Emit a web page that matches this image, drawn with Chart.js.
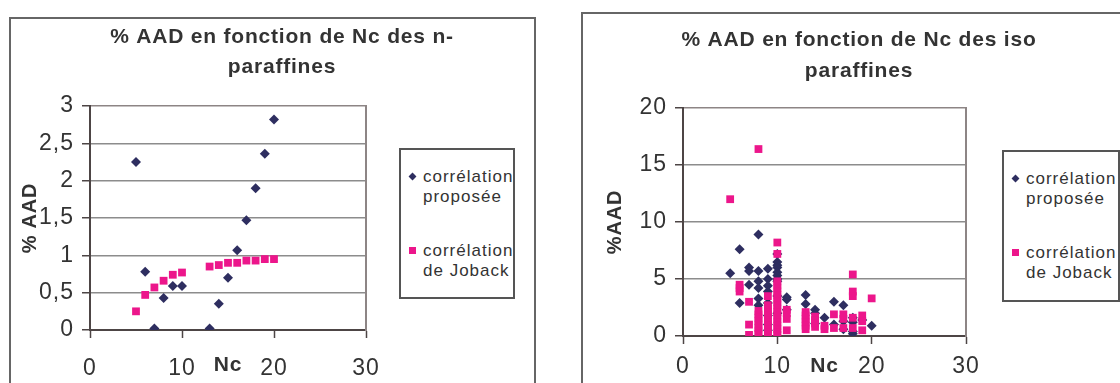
<!DOCTYPE html>
<html>
<head>
<meta charset="utf-8">
<script src="https://cdn.jsdelivr.net/npm/chart.js@4.4.1/dist/chart.umd.min.js"></script>
<style>
body { margin: 0; width: 1120px; height: 383px; overflow: hidden; background: #fff; font-family: 'Liberation Sans', Arial, sans-serif; }
.frame { position: absolute; border: 2px solid #666; box-sizing: border-box; height: 420px; }
.frame canvas { position: absolute; left: 0; top: 0; }
.legend { position: absolute; border: 2px solid #555; box-sizing: border-box; background: #fff; color: #333; font-size: 17px; letter-spacing: 1px; line-height: 20px; }
.legend .item { position: absolute; left: 22px; width: 92px; }
.legend .mark { position: absolute; left: -14px; top: 6px; width: 7px; height: 7px; }
.legend .diamond { transform: rotate(45deg) scale(0.8); }
</style>
</head>
<body>
<div class="frame" style="left:9px; top:17px; width:527px;"><canvas id="chartN" width="523" height="380"></canvas></div>
<div class="legend" id="legendN" style="left:399px; top:148px; width:116px; height:151px;"></div>
<div class="frame" style="left:581px; top:12px; width:544px;"><canvas id="chartIso" width="540" height="380"></canvas></div>
<div class="legend" id="legendIso" style="left:1002px; top:150px; width:118px; height:152px;"></div>
<script>
// n-paraffines
const nNc = [5, 6, 7, 8, 9, 10, 13, 14, 15, 16, 17, 18, 19, 20];
const nPropose = [2.25, 0.78, 0.02, 0.43, 0.59, 0.59, 0.02, 0.35, 0.70, 1.07, 1.47, 1.90, 2.36, 2.82];
const nJoback = [0.25, 0.47, 0.57, 0.66, 0.74, 0.77, 0.85, 0.87, 0.90, 0.90, 0.93, 0.93, 0.95, 0.95];

// iso paraffines
const isoNcPropose = [5, 6, 6, 7, 7, 7, 8, 8, 8, 8, 8, 8, 9, 9, 9, 9, 9, 9, 9, 9,
	10, 10, 10, 10, 10, 10, 10, 10, 10, 10, 11, 11, 11, 13, 13, 14, 14, 14, 15,
	16, 16, 17, 17, 17, 18, 18, 18, 18, 19, 20];
const isoPropose = [5.5, 7.6, 2.9, 6.0, 5.7, 4.5, 8.9, 5.7, 4.8, 4.2, 3.3, 2.7, 5.9, 5.0, 4.4, 3.9, 2.9, 1.8, 1.0, 0.5,
	7.2, 6.5, 6.2, 6.0, 5.6, 5.3, 5.0, 4.8, 3.5, 2.0, 3.4, 3.2, 2.3, 3.6, 2.8, 2.3, 2.0, 1.1, 1.6,
	3.0, 1.0, 2.7, 1.3, 0.6, 1.6, 1.2, 0.4, 0.2, 1.4, 0.9];

const isoNcJoback = [5, 6, 6, 6, 7, 7, 7, 8, 8, 8, 8, 8, 8, 8, 8, 8,
	9, 9, 9, 9, 9, 9, 9, 9, 9, 9, 9,
	10, 10, 10, 10, 10, 10, 10, 10, 10, 10, 10, 10, 10, 10, 10, 10, 10, 10, 10,
	11, 11, 11, 11, 13, 13, 13, 13, 13, 13, 14, 14, 14, 14, 15, 15, 16, 16,
	17, 17, 17, 18, 18, 18, 18, 18, 19, 19, 19, 20];
const isoJoback = [12.0, 4.5, 4.2, 3.9, 3.0, 1.0, 0.1, 16.4, 2.2, 1.9, 1.6, 1.3, 1.0, 0.7, 0.4, 0.2,
	3.5, 2.7, 2.4, 2.1, 1.8, 1.5, 1.2, 0.9, 0.6, 0.3, 0.1,
	8.2, 7.2, 4.8, 4.5, 4.2, 3.9, 3.6, 3.3, 3.0, 2.7, 2.4, 2.1, 1.8, 1.5, 1.2, 0.9, 0.6, 0.3, 0.1,
	2.3, 2.0, 1.5, 0.5, 2.1, 1.8, 1.5, 1.2, 0.9, 0.6, 1.7, 1.4, 1.1, 0.8, 0.9, 0.6, 1.9, 0.7,
	1.9, 1.5, 0.7, 5.4, 3.9, 3.5, 1.6, 0.7, 1.8, 1.3, 0.5, 3.3];

const labelPropose = 'corrélation proposée';
const labelJoback = 'corrélation de Joback';
const navy = '#2e2e60';
const pink = '#ec168b';

Chart.defaults.font.family = "'Liberation Sans', Arial, sans-serif";
Chart.defaults.color = '#333';

// the chart text is drawn a little wider than plain Arial: add letter spacing
function spaceText(ctx) {
	const desc = Object.getOwnPropertyDescriptor(CanvasRenderingContext2D.prototype, 'font');
	Object.defineProperty(ctx, 'font', {
		get() { return desc.get.call(this); },
		set(v) {
			desc.set.call(this, v);
			this.letterSpacing = v.indexOf('bold') >= 0 ? '0.8px' : '1px';
		},
	});
	return ctx;
}

function points(xs, ys) {
	return xs.map((x, i) => ({ x: x, y: ys[i] }));
}

function makeChart(id, o) {
	const ctx = spaceText(document.getElementById(id).getContext('2d'));
	return new Chart(ctx, {
		type: 'scatter',
		data: {
			datasets: [
				{
					label: labelPropose,
					data: points(o.x1, o.y1),
					pointStyle: 'rectRot',
					pointRadius: 5,
					pointHoverRadius: 5,
					pointBorderWidth: 0,
					backgroundColor: navy,
					borderColor: navy,
					order: 1,
				},
				{
					label: labelJoback,
					data: points(o.x2, o.y2),
					pointStyle: 'rect',
					pointRadius: 5.5,
					pointHoverRadius: 5.5,
					pointBorderWidth: 0,
					backgroundColor: pink,
					borderColor: pink,
					order: 0,
				},
			],
		},
		options: {
			responsive: false,
			animation: false,
			devicePixelRatio: 1,
			layout: { padding: { left: o.padLeft, top: 0, right: 0, bottom: 0 } },
			plugins: {
				legend: { display: false },
				tooltip: { enabled: false },
				title: {
					display: true,
					text: o.title,
					color: '#333',
					font: { size: 21, weight: 'bold', lineHeight: o.titleLine },
					padding: { top: o.titleTop, bottom: o.titleBottom },
				},
			},
			scales: {
				x: {
					type: 'linear',
					position: 'bottom',
					min: 0,
					max: 30,
					ticks: { stepSize: 10, font: { size: 23 }, padding: o.xPad, color: '#333' },
					grid: { drawOnChartArea: false, tickLength: 8, tickColor: '#4d4545', tickWidth: 1.5 },
					border: { color: '#4d4545', width: 2 },
					title: {
						display: true,
						text: 'Nc',
						color: '#333',
						font: { size: 21, weight: 'bold' },
						padding: { top: 0, bottom: o.ncBottom },
					},
					afterFit(s) { s.height = o.xHeight; },
				},
				y: {
					type: 'linear',
					position: 'left',
					min: 0,
					max: o.yMax,
					ticks: {
						stepSize: o.yStep,
						font: { size: 23 },
						padding: 8,
						color: '#333',
						callback: (v) => String(v).replace('.', ','),
					},
					grid: {
						color: (c) => (c.tick && c.tick.value === o.yMax ? '#8d8585' : '#8c8c8c'),
						lineWidth: 1.5,
						tickLength: 8,
						tickColor: '#4d4545',
						tickWidth: 1.5,
					},
					border: { color: '#4d4545', width: 2 },
					title: {
						display: true,
						text: o.yTitle,
						color: '#333',
						font: { size: 20, weight: 'bold', lineHeight: 1 },
						padding: { top: o.yTitlePad, bottom: 0 },
					},
					afterFit(s) { s.width = o.yWidth; },
				},
				side: {
					type: 'linear',
					position: 'right',
					ticks: { display: false },
					grid: { display: false },
					border: { display: true, color: '#8d8585', width: 2 },
					afterFit(s) { s.width = o.sideWidth; },
				},
			},
		},
	});
}

function buildLegend(id, chart) {
	const box = document.getElementById(id);
	const tops = [17, 91];
	chart.data.datasets.forEach((ds, i) => {
		const item = document.createElement('div');
		item.className = 'item';
		item.style.top = tops[i] + 'px';
		const mark = document.createElement('span');
		mark.className = 'mark' + (ds.pointStyle === 'rectRot' ? ' diamond' : '');
		mark.style.background = ds.backgroundColor;
		item.appendChild(mark);
		item.appendChild(document.createTextNode(ds.label));
		box.appendChild(item);
	});
}

const chartN = makeChart('chartN', {
	x1: nNc, y1: nPropose, x2: nNc, y2: nJoback,
	title: ['% AAD en fonction de Nc des n-', 'paraffines'],
	titleLine: 1.43, titleTop: 3, titleBottom: 24,
	padLeft: 19, yWidth: 60, sideWidth: 168, xHeight: 69,
	xPad: 17, ncBottom: 21,
	yMax: 3, yStep: 0.5, yTitle: '% AAD', yTitlePad: -10,
});

const chartIso = makeChart('chartIso', {
	x1: isoNcPropose, y1: isoPropose, x2: isoNcJoback, y2: isoJoback,
	title: ['% AAD en fonction de Nc des iso', 'paraffines'],
	titleLine: 1.51, titleTop: 10, titleBottom: 20.6,
	padLeft: 12, yWidth: 88, sideWidth: 157, xHeight: 58,
	xPad: 9, ncBottom: 15,
	yMax: 20, yStep: 5, yTitle: '%AAD', yTitlePad: 10,
});

buildLegend('legendN', chartN);
buildLegend('legendIso', chartIso);
</script>
</body>
</html>
